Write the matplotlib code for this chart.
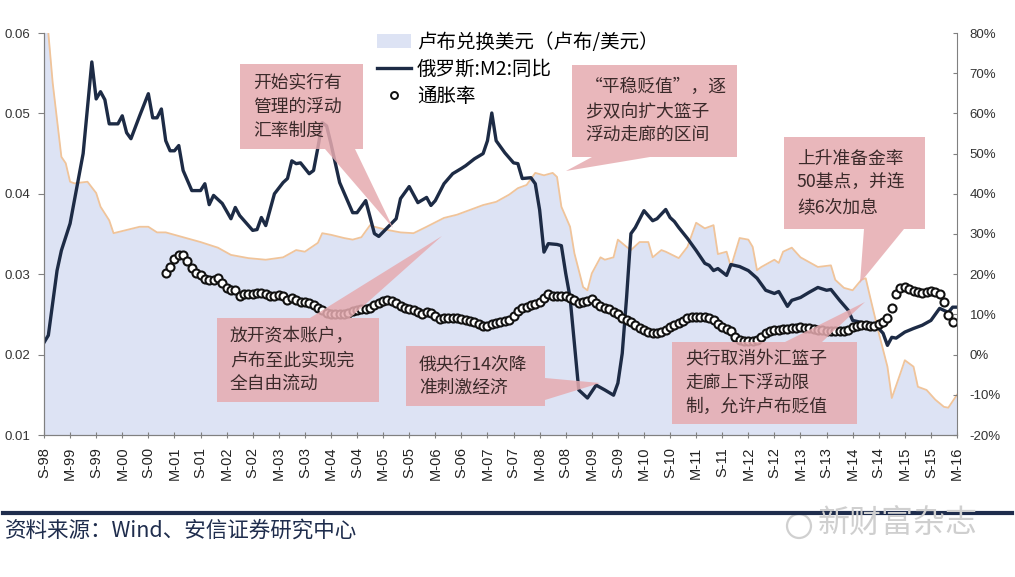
import matplotlib.pyplot as plt
from matplotlib.patches import Polygon, Patch, Ellipse
from matplotlib.lines import Line2D
from matplotlib.ticker import FormatStrFormatter, FuncFormatter

plt.rcParams['font.family'] = ['Liberation Sans', 'Noto Sans CJK SC', 'DejaVu Sans']
CJK = ['Noto Sans CJK SC', 'DejaVu Sans']

W, H = 1015, 577

# x axis: months after Sep 1998
tick_labels = ["S-98", "M-99", "S-99", "M-00", "S-00", "M-01", "S-01", "M-02", "S-02",
               "M-03", "S-03", "M-04", "S-04", "M-05", "S-05", "M-06", "S-06", "M-07",
               "S-07", "M-08", "S-08", "M-09", "S-09", "M-10", "S-10", "M-11", "S-11",
               "M-12", "S-12", "M-13", "S-13", "M-14", "S-14", "M-15", "S-15", "M-16"]

# 卢布兑换美元 (left axis)
fx_month = [0, 1, 2, 4, 5, 6, 7, 10, 12, 13, 15, 16, 19, 22, 24, 26, 28, 32, 36, 40,
            43, 47, 51, 55, 58, 60, 63, 64, 66, 69, 71, 73, 75, 76, 79, 82, 85, 88, 92, 95,
            98, 101, 104, 107, 109, 111, 113, 115, 117, 118, 119, 121, 122, 124, 125, 126,
            128, 129, 131, 132, 134, 135, 137, 139, 140, 142, 143, 146, 148, 150, 152, 154,
            155, 157, 158, 160, 162, 163, 164, 165, 168, 169, 170, 172, 174, 176, 178, 181,
            182, 184, 186, 188, 189, 190, 192, 194, 195, 197, 198, 200, 201, 203, 205, 207,
            208, 210]
fx_rate = [0.064, 0.060, 0.0538, 0.0446, 0.0438, 0.0415, 0.0413, 0.0415, 0.0401, 0.0384,
           0.0367, 0.0351, 0.0355, 0.0359, 0.0359, 0.0352, 0.0352, 0.0346, 0.0340, 0.0333,
           0.0324, 0.0320, 0.0318, 0.0321, 0.0330, 0.0328, 0.0339, 0.0351, 0.0349, 0.0345,
           0.0343, 0.0346, 0.0361, 0.0359, 0.0355, 0.0352, 0.0351, 0.0359, 0.0370, 0.0374,
           0.0380, 0.0386, 0.0390, 0.0399, 0.0407, 0.0411, 0.0426, 0.0423, 0.0426, 0.0421,
           0.0384, 0.0359, 0.0326, 0.0284, 0.0280, 0.0301, 0.0321, 0.0318, 0.0321, 0.0343,
           0.0334, 0.0330, 0.0340, 0.0340, 0.0321, 0.0330, 0.0328, 0.0320, 0.0334, 0.0364,
           0.0357, 0.0361, 0.0325, 0.0328, 0.0309, 0.0345, 0.0343, 0.0334, 0.0305, 0.0309,
           0.0318, 0.0314, 0.0328, 0.0333, 0.0321, 0.0315, 0.0309, 0.0311, 0.0293, 0.0283,
           0.0280, 0.0293, 0.0295, 0.0272, 0.0227, 0.0185, 0.0146, 0.0177, 0.0193, 0.0185,
           0.0160, 0.0156, 0.0144, 0.0135, 0.0134, 0.0150]

# 俄罗斯:M2:同比 (right axis, %)
m2_month = [0, 1, 3, 4, 6, 9, 11, 12, 13, 14, 15, 17, 18, 19, 20, 22, 24, 25, 26, 27, 28,
            29, 30, 31, 32, 34, 36, 37, 38, 39, 41, 43, 44, 45, 48, 49, 50, 51, 53, 55, 56,
            57, 58, 59, 61, 62, 63, 64, 65, 66, 68, 71, 72, 74, 76, 77, 81, 82, 84, 86, 88,
            89, 90, 92, 94, 96, 97, 99, 101, 102, 103, 104, 106, 108, 109, 110, 112, 113,
            114, 115, 116, 118, 119, 120, 121, 122, 123, 125, 127, 129, 131, 132, 133, 134,
            135, 136, 138, 140, 141, 143, 144, 145, 146, 148, 150, 152, 153, 154, 155, 157,
            158, 160, 162, 164, 166, 168, 169, 171, 172, 174, 176, 178, 180, 181, 183, 185,
            186, 188, 190, 192, 193, 194, 195, 196, 198, 200, 202, 204, 206, 208, 209, 210]
m2_yoy = [3.0, 4.8, 20.9, 25.9, 32.6, 50.0, 72.8, 63.6, 65.4, 63.4, 57.4, 57.4, 59.4, 55.2,
          53.7, 59.4, 64.9, 58.9, 58.9, 61.1, 53.2, 50.7, 50.7, 52.0, 45.8, 40.8, 40.8, 42.5,
          37.3, 39.6, 37.6, 33.8, 36.6, 34.6, 30.9, 31.1, 34.1, 32.1, 40.0, 42.8, 43.8, 48.2,
          47.5, 47.7, 45.0, 45.8, 51.5, 57.7, 56.9, 52.5, 42.8, 35.3, 35.3, 38.3, 30.1, 29.4,
          33.8, 38.8, 41.8, 37.8, 39.1, 37.1, 38.3, 42.5, 45.0, 46.3, 47.0, 48.7, 50.0, 53.2,
          60.1, 53.2, 50.2, 47.7, 47.5, 43.8, 44.0, 42.5, 36.0, 25.5, 27.6, 27.4, 27.1, 20.2,
          14.2, 2.8, -8.8, -10.8, -7.6, -8.8, -10.1, -7.1, 0.3, 14.2, 30.1, 31.6, 35.8, 33.3,
          33.8, 36.1, 34.1, 33.1, 31.6, 28.9, 25.9, 22.7, 22.2, 20.9, 21.4, 19.7, 22.4, 21.9,
          20.9, 19.0, 16.0, 15.2, 15.7, 12.0, 13.5, 14.2, 15.5, 16.7, 16.0, 16.2, 13.5, 11.0,
          8.5, 8.0, 7.3, 6.5, 5.3, 2.3, 4.3, 4.1, 5.6, 6.5, 7.3, 8.5, 11.5, 10.5, 11.8, 11.8]

# 通胀率 (right axis, %), monthly from Jan 2001
cpi_yoy = [20.4, 21.9, 23.8, 24.7, 24.7, 23.4, 21.5, 20.4, 19.7, 18.7, 18.5, 18.5,
           19.0, 17.7, 16.5, 16.0, 16.0, 14.7, 15.0, 15.0, 15.0, 15.2, 15.2, 15.0,
           14.7, 14.7, 14.9, 14.7, 13.7, 14.0, 13.5, 13.0, 13.0, 12.8, 12.3, 11.7,
           11.0, 10.3, 10.0, 10.0, 10.0, 10.0, 10.3, 10.8, 11.0, 11.3, 11.3, 11.5,
           12.3, 12.8, 13.3, 13.5, 13.3, 12.8, 12.2, 11.7, 11.3, 11.0, 10.7, 10.0,
           10.6, 10.3, 9.5, 8.9, 9.0, 9.0, 9.0, 9.0, 8.8, 8.6, 8.4, 8.0,
           7.5, 7.2, 7.0, 7.5, 7.8, 8.0, 8.3, 8.6, 9.5, 10.8, 11.5, 11.8,
           12.3, 12.7, 13.2, 14.2, 15.0, 14.5, 14.5, 14.5, 14.5, 14.0, 13.5, 12.8,
           13.0, 13.3, 13.8, 12.8, 12.0, 11.5, 11.3, 10.7, 10.0, 9.0, 8.5, 8.0,
           7.3, 6.6, 6.1, 5.5, 5.3, 5.3, 5.7, 6.2, 6.8, 7.3, 7.8, 8.3,
           9.0, 9.3, 9.3, 9.3, 9.3, 9.0, 8.5, 7.6, 6.9, 6.4, 5.8, 4.5,
           3.6, 3.3, 3.3, 3.3, 3.7, 4.5, 5.4, 5.8, 6.1, 6.2, 6.3, 6.4,
           6.5, 6.6, 6.8, 6.7, 6.5, 6.3, 6.1, 6.0, 5.9, 5.8, 5.8, 5.8,
           5.8, 6.2, 6.8, 7.2, 7.3, 7.3, 7.1, 7.0, 7.5, 8.0, 9.0, 11.5,
           15.0, 16.5, 16.9, 16.2, 15.8, 15.5, 15.3, 15.6, 15.7, 15.6, 15.0, 13.0,
           9.8, 8.0]
cpi_month = list(range(28, 28 + len(cpi_yoy)))

# callouts: text, box (x0, y0, x1, y1 in px from top-left), side, wedge base, tip
notes = [
    ("开始实行有\n管理的浮动\n汇率制度", (240, 64, 363, 149), "bottom", (325, 355), (393, 228)),
    ("放开资本账户，\n卢布至此实现完\n全自由流动", (217, 318, 379, 402), "top", (310, 350), (442, 236)),
    ("俄央行14次降\n准刺激经济", (406, 346, 545, 406), "right", (378, 400), (600, 383)),
    ("“平稳贬值”，逐\n步双向扩大篮子\n浮动走廊的区间", (572, 65, 737, 157), "bottom", (592, 650), (566, 171)),
    ("上升准备金率\n50基点，并连\n续6次加息", (784, 137, 925, 229), "bottom", (864, 904), (860, 283)),
    ("央行取消外汇篮子\n走廊上下浮动限\n制，允许卢布贬值", (672, 342, 857, 424), "top", (785, 822), (865, 302)),
]


def fp(x, y):
    return (x / W, 1 - y / H)


fig = plt.figure(figsize=(W / 100, H / 100), dpi=100)
ax = fig.add_axes([44 / W, 1 - 435 / H, (957 - 44) / W, (435 - 33) / H])

fill_c = '#dde3f4'
ax.fill_between(fx_month, fx_rate, 0.01, color=fill_c, lw=0)
ax.plot(fx_month, fx_rate, color='#f0c49a', lw=1.3)
ax.set_xlim(0, 210)
ax.set_ylim(0.01, 0.06)
ax.yaxis.set_major_formatter(FormatStrFormatter('%.2f'))
ax.set_xticks(range(0, 211, 6))
ax.set_xticklabels(tick_labels, rotation=90, fontsize=10.5, color='#222222')
ax.tick_params(axis='y', labelsize=9.5, labelcolor='#333333', length=4, pad=6, color='#808080')
ax.tick_params(axis='x', length=5, direction='inout', pad=6, color='#808080')

ax2 = ax.twinx()
ax2.plot(m2_month, m2_yoy, color='#1d2b45', lw=2.4)
ax2.plot(cpi_month, cpi_yoy, ls='none', marker='o', ms=5.8, mfc='white', mec='#111111', mew=1.5)
ax2.set_ylim(-20, 80)
ax2.set_yticks(range(-20, 81, 10))
ax2.yaxis.set_major_formatter(FuncFormatter(lambda v, p: f"{int(v)}%"))
ax2.tick_params(axis='y', labelsize=9.5, labelcolor='#333333', length=3, direction='in',
                pad=9, color='#808080')

for a in (ax, ax2):
    a.spines['top'].set_visible(False)
    for s in ('left', 'right', 'bottom'):
        a.spines[s].set_color('#808080')
ax.spines['right'].set_visible(False)

handles = [Patch(fc=fill_c, ec='none'),
           Line2D([], [], color='#1d2b45', lw=2.4),
           Line2D([], [], ls='none', marker='o', ms=5, mfc='white', mec='#111111', mew=1.4)]
labels = ["卢布兑换美元（卢布/美元）", "俄罗斯:M2:同比", "通胀率"]
fig.legend(handles, labels, loc='upper left', bbox_to_anchor=fp(377, 32),
           frameon=False, prop={'family': CJK, 'size': 14}, handlelength=1.75,
           handletextpad=0.3, labelspacing=0.3, borderpad=0, borderaxespad=0)

# callout boxes
for text, (x0, y0, x1, y1), side, (a, b), tip in notes:
    if side == "bottom":
        pts = [(x0, y0), (x1, y0), (x1, y1), (b, y1), tip, (a, y1), (x0, y1)]
    elif side == "top":
        pts = [(x0, y0), (a, y0), tip, (b, y0), (x1, y0), (x1, y1), (x0, y1)]
    else:
        pts = [(x0, y0), (x1, y0), (x1, a), tip, (x1, b), (x1, y1), (x0, y1)]
    fig.add_artist(Polygon([fp(*p) for p in pts], closed=True, transform=fig.transFigure,
                           fc='#e6abb0', ec='none', alpha=0.85, zorder=3))
    fig.text(*fp(x0 + 13, (y0 + y1) / 2), text, family=CJK, fontsize=12.8, color='#3b2a2a',
             ha='left', va='center', linespacing=1.42, zorder=4)

# footer
fig.add_artist(Line2D([3 / W, 1012 / W], [1 - 513 / H] * 2, color='#1f2d4d', lw=3,
                      transform=fig.transFigure))
fig.text(*fp(5, 531), "资料来源：Wind、安信证券研究中心", family=CJK, fontsize=15.5,
         style='italic', color='#1f2d4d', ha='left', va='center')
fig.add_artist(Ellipse(fp(799, 526), 24 / W, 24 / H, transform=fig.transFigure, fill=False,
                       ec='#d0d0d0', lw=1.6))
fig.text(*fp(818, 524), "新财富杂志", family=CJK, fontsize=23, color='#cfcfcf',
         ha='left', va='center')

fig.savefig('out.png', dpi=100)
